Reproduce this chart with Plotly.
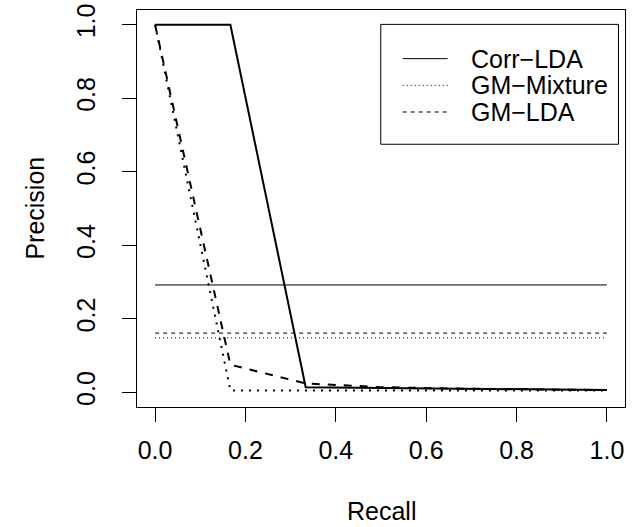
import plotly.graph_objects as go

# ---- data ----
recall = [0.0, 1/6, 2/6, 3/6, 4/6, 5/6, 1.0]
corr_lda = [1.0, 1.0, 0.014, 0.012, 0.010, 0.008, 0.006]
gm_mixture = [1.0, 0.005, 0.005, 0.005, 0.005, 0.005, 0.005]
gm_lda = [1.0, 0.075, 0.024, 0.014, 0.010, 0.008, 0.006]
baseline_names = ["Corr−LDA", "GM−Mixture", "GM−LDA"]
baseline_values = [0.292, 0.148, 0.161]
tick_vals = [0.0, 0.2, 0.4, 0.6, 0.8, 1.0]
tick_text = ["0.0", "0.2", "0.4", "0.6", "0.8", "1.0"]

# ---- layout geometry (pixels) ----
W, H = 634, 527
ML, MR, MT, MB = 137, 8.5, 9.6, 120
PW, PH = W - ML - MR, H - MT - MB
XR = [-0.04, 1.04]
YR = [-0.04, 1.04]
FONT = "Liberation Sans, Arial, Helvetica, sans-serif"
FS = 25

def px_x(p):  # pixel -> paper x
    return (p - ML) / PW

def px_y(p):  # pixel -> paper y
    return 1 - (p - MT) / PH

fig = go.Figure()

curve_styles = [("solid", corr_lda), ("2px,6px", gm_mixture), ("8px,8px", gm_lda)]
for name, (dash, vals) in zip(baseline_names, curve_styles):
    fig.add_trace(go.Scatter(x=recall, y=vals, mode="lines", name=name,
                             line=dict(color="black", width=2, dash=dash),
                             showlegend=False, hoverinfo="skip"))

base_dash = ["solid", "1px,3px", "4px,4px"]
for name, val, dash in zip(baseline_names, baseline_values, base_dash):
    fig.add_trace(go.Scatter(x=[recall[0], recall[-1]], y=[val, val], mode="lines",
                             name=name, line=dict(color="black", width=1, dash=dash),
                             showlegend=False, hoverinfo="skip"))

# ---- manual legend (R style) ----
shapes = [dict(type="rect", xref="paper", yref="paper",
               x0=px_x(381), x1=px_x(619), y0=px_y(144), y1=px_y(24),
               line=dict(color="black", width=1), fillcolor="white", layer="above")]
annotations = []
row_y = [58.3, 85.0, 111.7]
for name, dash, ry in zip(baseline_names, base_dash, row_y):
    shapes.append(dict(type="line", xref="paper", yref="paper",
                       x0=px_x(403), x1=px_x(448), y0=px_y(ry), y1=px_y(ry),
                       line=dict(color="black", width=1, dash=dash), layer="above"))
    annotations.append(dict(text=name, xref="paper", yref="paper",
                            x=px_x(469), y=px_y(ry), xanchor="left", yanchor="middle",
                            showarrow=False, font=dict(size=FS, color="black", family=FONT)))

# axis titles
annotations.append(dict(text="Recall", xref="paper", yref="paper",
                        x=0.5, y=px_y(511), xanchor="center", yanchor="middle",
                        showarrow=False, font=dict(size=FS, color="black", family=FONT)))
annotations.append(dict(text="Precision", xref="paper", yref="paper",
                        x=px_x(34), y=0.5, xanchor="center", yanchor="middle", textangle=-90,
                        showarrow=False, font=dict(size=FS, color="black", family=FONT)))

axis_common = dict(showgrid=False, zeroline=False, showline=True, mirror=True,
                   linecolor="black", linewidth=1, ticks="outside", ticklen=14,
                   tickwidth=1, tickcolor="black", tickvals=tick_vals, ticktext=tick_text,
                   automargin=False,
                   tickfont=dict(size=FS, color="black", family=FONT))

fig.update_layout(
    width=W, height=H,
    margin=dict(l=ML, r=MR, t=MT, b=MB, pad=0, autoexpand=False),
    paper_bgcolor="white", plot_bgcolor="white",
    xaxis=dict(range=XR, ticklabelstandoff=7, **axis_common),
    yaxis=dict(range=YR, tickangle=-90, ticklabelstandoff=17, **axis_common),
    shapes=shapes, annotations=annotations, showlegend=False,
    hovermode=False,
)

fig.write_html("out.html", config={"displayModeBar": False, "staticPlot": True},
               post_script="document.body.style.margin='0';document.body.style.overflow='hidden';")
